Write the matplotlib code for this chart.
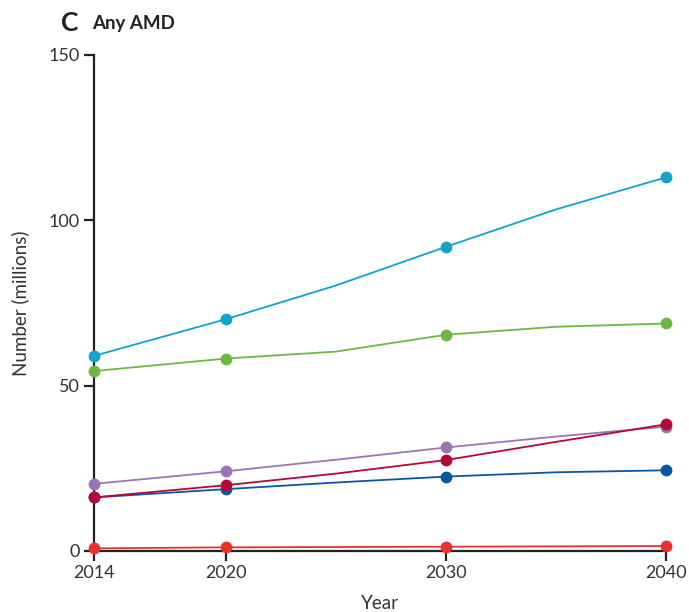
import matplotlib.pyplot as plt

years = [2014, 2020, 2025, 2030, 2035, 2040]
marked = [0, 1, 3, 5]  # markers only at 2014, 2020, 2030, 2040

cyan = [59.0, 70.1, 80.3, 92.0, 103.3, 113.0]
green = [54.4, 58.2, 60.3, 65.4, 67.8, 68.8]
purple = [20.3, 24.1, 27.6, 31.3, 34.6, 37.6]
crimson = [16.2, 19.9, 23.4, 27.5, 33.0, 38.3]
blue = [16.2, 18.7, 20.7, 22.5, 23.8, 24.4]
red = [0.8, 1.1, 1.2, 1.3, 1.4, 1.5]

series = [
    (cyan, '#13a3c8'),
    (green, '#6cb843'),
    (purple, '#9a74b5'),
    (blue, '#0b56a3'),
    (crimson, '#b30838'),
    (red, '#e8322b'),
]

plt.rcParams['font.family'] = ['Lato', 'DejaVu Sans']

fig = plt.figure(figsize=(6.89, 6.12), dpi=100)
ax = fig.add_axes([0.1364, 0.0997, 0.8303, 0.8105])

for vals, col in series:
    ax.plot(years, vals, color=col, linewidth=1.3, marker='o', markersize=8.5,
            markevery=marked, markeredgewidth=0, clip_on=False, zorder=3)

ax.set_xlim(2014, 2040)
ax.set_ylim(0, 150)
ax.set_xticks([2014, 2020, 2030, 2040])
ax.set_yticks([0, 50, 100, 150])
for s in ['top', 'right']:
    ax.spines[s].set_visible(False)
for s in ['left', 'bottom']:
    ax.spines[s].set_linewidth(1.6)
    ax.spines[s].set_color('#222222')
ax.tick_params(length=7, width=1.6, color='#222222', labelsize=13,
               labelcolor='#333333', pad=3)
ax.set_xlabel('Year', fontsize=13.5, color='#333333', labelpad=10)
ax.set_ylabel('Number (millions)', fontsize=13.5, color='#333333', labelpad=14)

fig.text(0.089, 0.963, 'C', fontsize=19, fontweight='bold', color='#222222',
         va='center')
fig.text(0.133, 0.962, 'Any AMD', fontsize=13.5, fontweight='bold',
         color='#222222', va='center')

fig.savefig('out.png', dpi=100)
